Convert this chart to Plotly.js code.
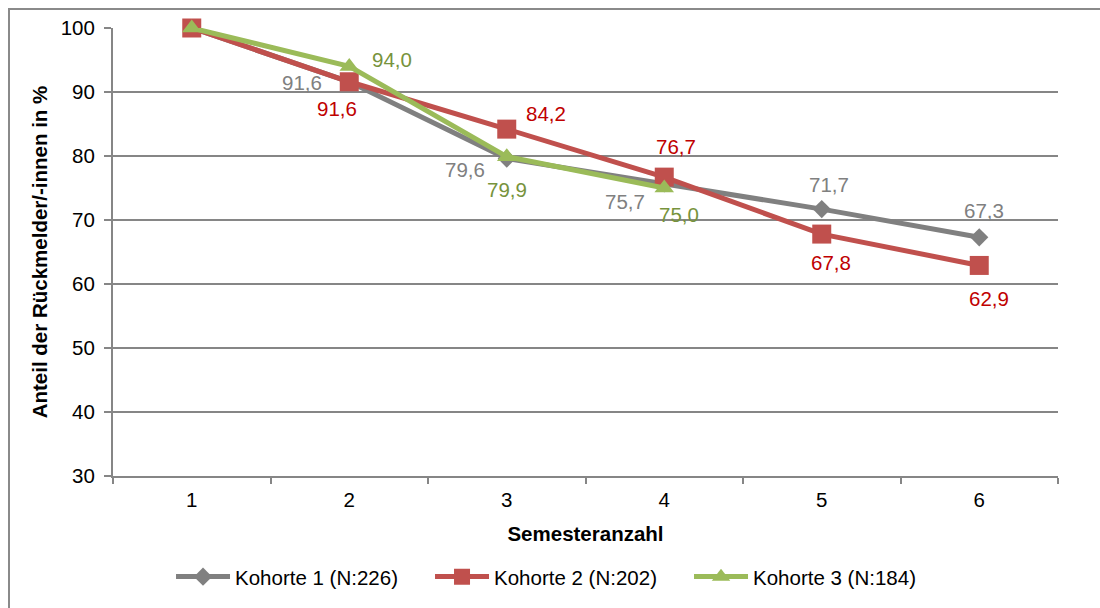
<!DOCTYPE html>
<html>
<head>
<meta charset="utf-8">
<script src="https://cdn.plot.ly/plotly-3.0.1.min.js"></script>
<style>
  html, body { margin: 0; padding: 0; background: #fff; }
  #wrap { position: relative; width: 1100px; height: 608px; overflow: hidden; }
  #frame { position: absolute; left: 8px; top: 8px; width: 1200px; height: 700px;
           border-left: 2px solid #8a8a8a; border-top: 2px solid #8a8a8a; pointer-events: none; }
  #chart { position: absolute; left: 0; top: 0; width: 1100px; height: 608px; }
</style>
</head>
<body>
<div id="wrap">
  <div id="chart"></div>
  <div id="frame"></div>
</div>
<script>
// ---- data ----
const semester = ['1', '2', '3', '4', '5', '6'];
const kohorte1 = [100, 91.6, 79.6, 75.7, 71.7, 67.3];
const kohorte2 = [100, 91.6, 84.2, 76.7, 67.8, 62.9];
const kohorte3 = [100, 94.0, 79.9, 75.0];
const seriesNames = ['Kohorte 1 (N:226)', 'Kohorte 2 (N:202)', 'Kohorte 3 (N:184)'];
const yTickValues = [30, 40, 50, 60, 70, 80, 90, 100];

// ---- styles ----
const FONT = 'Liberation Sans, Arial, Helvetica, sans-serif';
const FS = 20.5;
const lineColors = ['#808080', '#C0504D', '#9BBB59'];
const labelColors = ['#808080', '#C00000', '#77933C'];
const symbols = ['diamond', 'square', 'triangle-up'];
const markerSizes = [14, 19, 17];
// label offsets (px) relative to each point; null = no label
const labelShift = [
  [null, [-47, 1], [-42, 11], [-39, 18], [7, -25], [5, -27]],
  [null, [-12, 27], [39, -16], [12, -31], [9, 28], [10, 33]],
  [null, [43, -7], [0, 33], [15, 26]]
];

const allSeries = [kohorte1, kohorte2, kohorte3];
const fmt = v => v.toFixed(1).replace('.', ',');

const traces = allSeries.map((vals, i) => ({
  type: 'scatter',
  mode: 'lines+markers',
  name: seriesNames[i],
  x: semester.slice(0, vals.length),
  y: vals,
  line: { color: lineColors[i], width: 5 },
  marker: { symbol: symbols[i], size: markerSizes[i], color: lineColors[i], line: { width: 0 } },
  cliponaxis: false
}));

const annotations = [];
allSeries.forEach((vals, i) => {
  vals.forEach((v, j) => {
    const s = labelShift[i][j];
    if (!s) return;
    annotations.push({
      xref: 'x', yref: 'y', x: j, y: v,   // j = category index of semester[j]
      text: fmt(v), showarrow: false,
      xshift: s[0], yshift: -s[1],
      font: { family: FONT, size: FS, color: labelColors[i] }
    });
  });
});

const layout = {
  width: 1100, height: 608,
  margin: { l: 113, r: 42, t: 28, b: 132, autoexpand: false },
  paper_bgcolor: '#ffffff', plot_bgcolor: '#ffffff',
  font: { family: FONT, size: FS, color: '#000000' },
  showlegend: true,
  legend: {
    orientation: 'h', x: 0.0614, xanchor: 'left', y: -0.225, yanchor: 'middle',
    font: { family: FONT, size: FS, color: '#000000' },
    itemwidth: 54, entrywidth: 190, entrywidthmode: 'pixels', traceorder: 'normal'
  },
  xaxis: {
    type: 'category',
    categoryorder: 'array', categoryarray: semester,
    range: [-0.5, 5.5],
    showgrid: false, zeroline: false,
    showline: true, linecolor: '#868686', linewidth: 2,
    ticks: 'outside', tickson: 'boundaries', ticklen: 6, tickcolor: '#868686', tickwidth: 2,
    ticklabelstandoff: 4,
    tickfont: { family: FONT, size: FS, color: '#000' },
    title: { text: 'Semesteranzahl', font: { family: FONT, size: FS, weight: 'bold', color: '#000' }, standoff: 17 }
  },
  yaxis: {
    range: [30, 100],
    tickvals: yTickValues,
    showgrid: true, gridcolor: '#868686', gridwidth: 2,
    zeroline: false,
    showline: true, linecolor: '#868686', linewidth: 2,
    ticks: 'outside', ticklen: 7, tickcolor: '#868686', tickwidth: 2,
    ticklabelstandoff: 5,
    tickfont: { family: FONT, size: FS, color: '#000' },
    title: { text: 'Anteil der Rückmelder/-innen in %', font: { family: FONT, size: FS, weight: 'bold', color: '#000' }, standoff: 8 }
  },
  annotations: annotations
};

Plotly.newPlot('chart', traces, layout, { staticPlot: true, displayModeBar: false });
</script>
</body>
</html>
